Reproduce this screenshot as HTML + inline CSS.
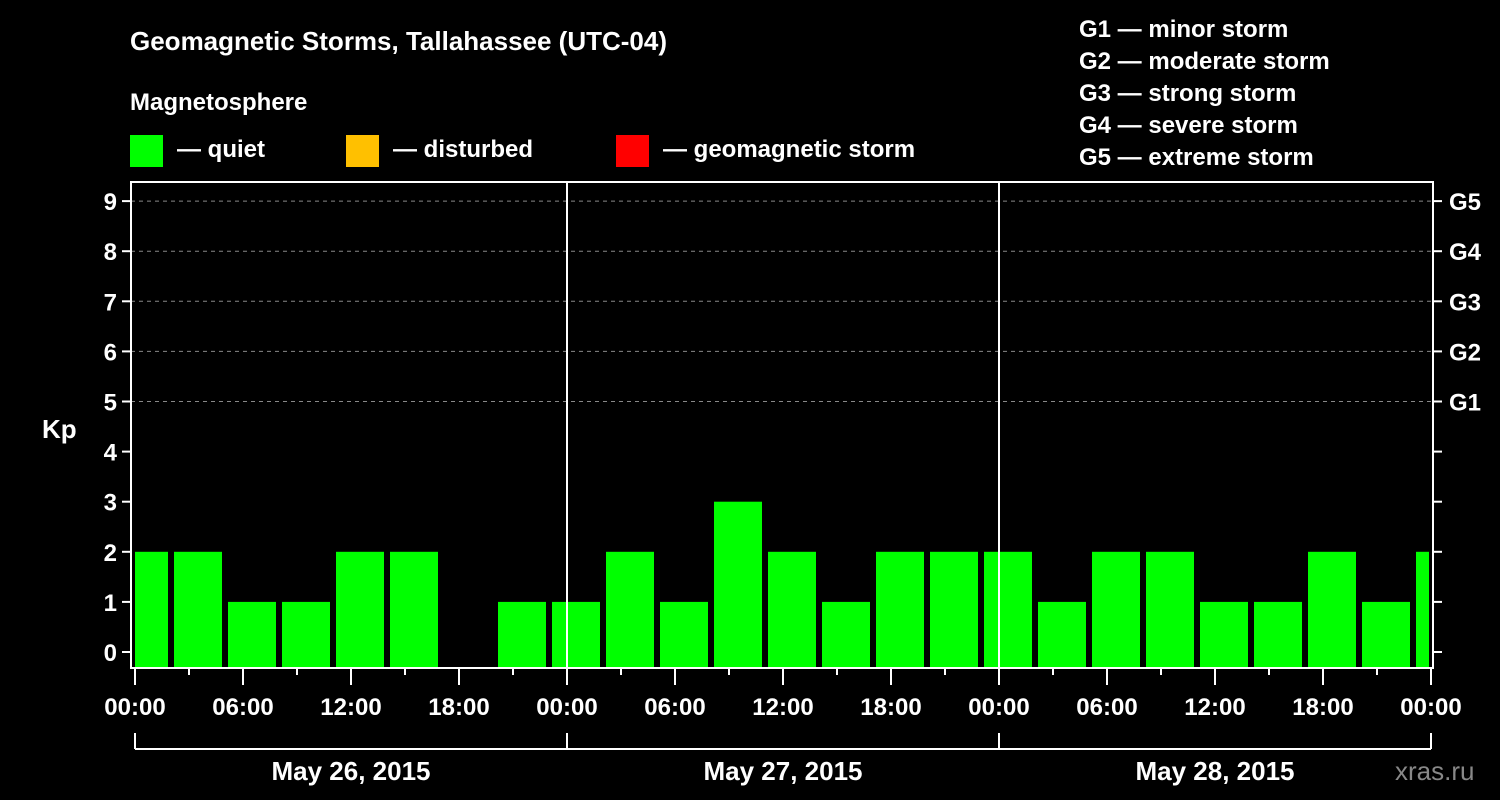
<!DOCTYPE html>
<html><head><meta charset="utf-8"><style>
body{margin:0;background:#000;width:1500px;height:800px;overflow:hidden}
svg{display:block;font-family:"Liberation Sans",sans-serif;font-weight:bold}
</style></head><body>
<svg id="c" width="1500" height="800">
<text x="130" y="50" fill="#fff" font-size="26">Geomagnetic Storms, Tallahassee (UTC-04)</text>
<text x="130" y="110" fill="#fff" font-size="24">Magnetosphere</text>
<g><rect x="130" y="135" width="33" height="32" fill="#00ff00"/><text x="177" y="157" fill="#fff" font-size="24">— quiet</text></g>
<g><rect x="346" y="135" width="33" height="32" fill="#ffc000"/><text x="393" y="157" fill="#fff" font-size="24">— disturbed</text></g>
<g><rect x="616" y="135" width="33" height="32" fill="#ff0000"/><text x="663" y="157" fill="#fff" font-size="24">— geomagnetic storm</text></g>
<g fill="#fff" font-size="24">
<text x="1079" y="37">G1 — minor storm</text><text x="1079" y="69">G2 — moderate storm</text><text x="1079" y="101">G3 — strong storm</text><text x="1079" y="133">G4 — severe storm</text><text x="1079" y="165">G5 — extreme storm</text></g>
<text x="42" y="438" fill="#fff" font-size="26">Kp</text>
<g id="grid"></g><g id="bars"></g><g id="axes"></g>
<text x="1395" y="780" fill="#888" font-size="26" font-weight="normal">xras.ru</text>
</svg>
<script>
const kpValues=[2,2,1,1,2,2,0,1,1,2,1,3,2,1,2,2,2,1,2,2,1,1,2,1,2];
const hourTicks=["00:00","06:00","12:00","18:00"];
const dayLabels=["May 26, 2015","May 27, 2015","May 28, 2015"];
const gLabels=["G1","G2","G3","G4","G5"];
const NS="http://www.w3.org/2000/svg";
const L=131,R=1433,T=182,B=668,X0=135,PXH=18;
const y=v=>652-50.1*v;
const x=h=>X0+h*PXH;
function mk(p,tag,at){const e=document.createElementNS(NS,tag);for(const k in at)e.setAttribute(k,at[k]);p.appendChild(e);return e;}
const grid=document.getElementById('grid'),bars=document.getElementById('bars'),axes=document.getElementById('axes');
for(let v=5;v<=9;v++){const l=mk(grid,'line',{x1:L,x2:R,y1:y(v),y2:y(v),stroke:'#888','stroke-dasharray':'4,4'});

}
kpValues.forEach((v,i)=>{if(v<=0)return;
let a=Math.max(x(3*i)-15,L+4),b=Math.min(x(3*i)+33,R-4);
const r=mk(bars,'rect',{x:a,y:y(v),width:b-a,height:B-y(v),fill:'#00ff00'});

});
mk(axes,'rect',{x:L,y:T,width:R-L,height:B-T,fill:'none',stroke:'#fff','stroke-width':2});
for(let d=1;d<3;d++)mk(axes,'line',{x1:x(24*d),x2:x(24*d),y1:T,y2:B,stroke:'#fff','stroke-width':2});
for(let v=0;v<=9;v++){
mk(axes,'line',{x1:L-9,x2:L,y1:y(v),y2:y(v),stroke:'#fff','stroke-width':2});
mk(axes,'line',{x1:R,x2:R+9,y1:y(v),y2:y(v),stroke:'#fff','stroke-width':2});
const t=mk(axes,'text',{x:L-14,y:y(v)+9,fill:'#fff','font-size':24,'text-anchor':'end'});t.textContent=v;

}
gLabels.forEach((g,i)=>{const t=mk(axes,'text',{x:1449,y:y(5+i)+9,fill:'#fff','font-size':24});t.textContent=g;

});
for(let h=0;h<=72;h+=3){const big=h%6===0;
mk(axes,'line',{x1:x(h),x2:x(h),y1:B,y2:B+(big?17:7),stroke:'#fff','stroke-width':2});
if(big){const t=mk(axes,'text',{x:x(h),y:715,fill:'#fff','font-size':24,'text-anchor':'middle'});t.textContent=hourTicks[(h/6)%4];

}}
mk(axes,'line',{x1:x(0),x2:x(72),y1:749,y2:749,stroke:'#fff','stroke-width':2});
for(let d=0;d<=3;d++)mk(axes,'line',{x1:x(24*d),x2:x(24*d),y1:733,y2:749,stroke:'#fff','stroke-width':2});
dayLabels.forEach((s,d)=>{const t=mk(axes,'text',{x:x(24*d+12),y:780,fill:'#fff','font-size':26,'text-anchor':'middle'});t.textContent=s;

});
</script>
</body></html>
